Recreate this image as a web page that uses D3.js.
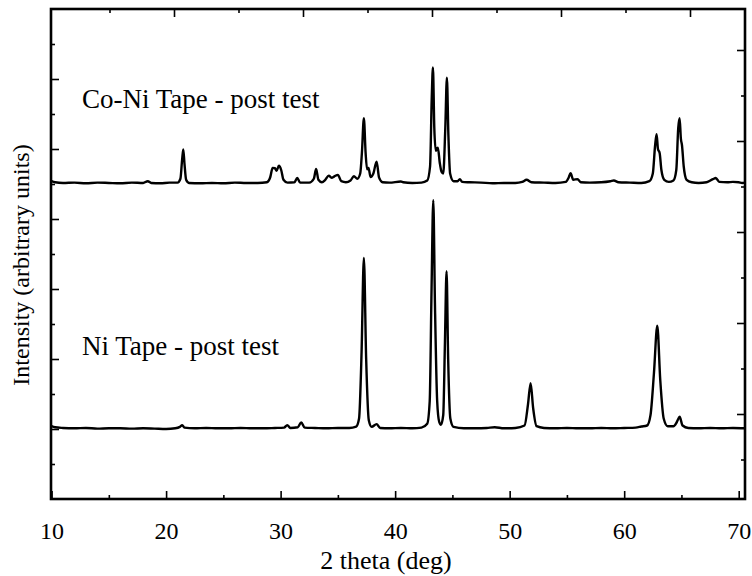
<!DOCTYPE html>
<html>
<head>
<meta charset="utf-8">
<script src="https://cdn.jsdelivr.net/npm/d3@7"></script>
<style>
  html, body { margin: 0; padding: 0; background: #fff; }
  svg { display: block; }
  text { font-family: "Liberation Serif", "Times New Roman", serif; fill: #000; }
</style>
</head>
<body>
<svg id="chart" width="752" height="576"></svg>
<script>
// ---------------- data ----------------
// X-ray diffraction traces: [2 theta (deg), intensity (arbitrary)]
const coNiTrace = [
  [10.0, 9.08], [10.3, 9.05], [11, 9.03], [12, 9.04], [13, 9.02], [14, 9.04], [15, 9.03], [16, 9.02],
  [17, 9.04], [18, 9.03], [18.4, 9.08], [18.7, 9.03], [19.5, 9.02], [20.3, 9.04], [21.0, 9.04],
  [21.25, 9.15], [21.4, 9.7], [21.5, 9.99], [21.6, 9.6], [21.75, 9.12], [22.0, 9.03], [23, 9.02],
  [24, 9.03], [25, 9.02], [26, 9.04], [27, 9.03], [28, 9.03], [28.8, 9.05], [29.1, 9.2], [29.3, 9.46],
  [29.5, 9.45], [29.65, 9.38], [29.85, 9.52], [30.05, 9.4], [30.25, 9.12], [30.6, 9.04], [31.2, 9.05],
  [31.45, 9.17], [31.7, 9.04], [32.5, 9.04], [32.9, 9.15], [33.1, 9.43], [33.3, 9.12], [33.6, 9.05],
  [33.9, 9.12], [34.2, 9.24], [34.45, 9.18], [34.7, 9.22], [35.0, 9.26], [35.3, 9.08], [35.7, 9.05],
  [36.1, 9.1], [36.4, 9.22], [36.7, 9.15], [36.95, 9.3], [37.1, 9.9], [37.27, 10.88], [37.42, 9.9],
  [37.55, 9.42], [37.68, 9.46], [37.85, 9.2], [38.1, 9.3], [38.38, 9.64], [38.6, 9.18], [38.9, 9.05],
  [39.5, 9.04], [40.5, 9.07], [40.7, 9.05], [41.5, 9.03], [42.3, 9.04], [42.8, 9.1], [43.05, 9.5],
  [43.2, 11.5], [43.3, 12.33], [43.42, 10.6], [43.55, 9.95], [43.73, 10.04], [43.9, 9.6], [44.05, 9.35],
  [44.2, 9.3], [44.38, 10.6], [44.52, 12.04], [44.65, 10.4], [44.8, 9.3], [45.1, 9.08], [45.45, 9.08],
  [45.65, 9.14], [45.85, 9.06], [46.5, 9.05], [47.5, 9.04], [48.5, 9.02], [49.5, 9.03], [50.5, 9.03],
  [51.1, 9.06], [51.48, 9.12], [51.9, 9.05], [53, 9.04], [54, 9.03], [54.9, 9.06], [55.15, 9.18],
  [55.32, 9.31], [55.55, 9.12], [55.93, 9.14], [56.2, 9.05], [57, 9.04], [58, 9.05], [58.8, 9.08],
  [59.1, 9.1], [59.5, 9.05], [60.5, 9.04], [61.5, 9.03], [62.2, 9.08], [62.5, 9.3], [62.7, 10.1],
  [62.83, 10.42], [62.95, 10.0], [63.1, 9.88], [63.25, 9.4], [63.5, 9.12], [63.9, 9.06], [64.3, 9.1],
  [64.55, 9.4], [64.72, 10.6], [64.84, 10.88], [64.95, 10.3], [65.05, 10.1], [65.2, 9.5], [65.45, 9.12],
  [65.9, 9.05], [66.5, 9.03], [67.2, 9.05], [67.75, 9.14], [68.0, 9.17], [68.3, 9.06], [69.0, 9.05],
  [69.5, 9.06], [70.0, 9.05], [70.3, 9.03], [70.55, 9.04]
];

const niTrace = [
  [10.0, 2.08], [10.3, 2.05], [11, 2.03], [12, 2.02], [13, 2.03], [14, 2.01], [15, 2.02], [16, 2.02],
  [17, 2.01], [18, 2.02], [19, 2.01], [20, 2.0], [20.8, 2.02], [21.2, 2.06], [21.41, 2.11], [21.6, 2.04],
  [22.5, 2.02], [23.5, 2.03], [24.5, 2.02], [25.5, 2.02], [26.5, 2.03], [27.5, 2.02], [28.5, 2.02],
  [29.5, 2.03], [30.3, 2.04], [30.58, 2.11], [30.85, 2.03], [31.5, 2.05], [31.8, 2.19], [32.1, 2.04],
  [33, 2.03], [34, 2.02], [35, 2.03], [36, 2.03], [36.6, 2.07], [36.85, 2.3], [37.07, 4.2], [37.27, 6.89],
  [37.47, 4.0], [37.7, 2.25], [37.95, 2.06], [38.38, 2.14], [38.7, 2.03], [39.5, 2.02], [40.5, 2.03],
  [41.5, 2.02], [42.3, 2.04], [42.8, 2.15], [43.02, 2.8], [43.18, 6.0], [43.33, 8.54], [43.48, 5.5],
  [43.67, 2.8], [43.85, 2.2], [44.0, 2.12], [44.2, 2.4], [44.35, 4.5], [44.49, 6.51], [44.63, 4.0],
  [44.82, 2.3], [45.1, 2.06], [46, 2.02], [47, 2.02], [48, 2.03], [48.7, 2.05], [49.5, 2.02], [50.5, 2.03],
  [51.3, 2.1], [51.6, 2.7], [51.83, 3.31], [52.05, 2.6], [52.35, 2.08], [53, 2.03], [54, 2.02], [55, 2.03],
  [56, 2.02], [57, 2.02], [58, 2.03], [59, 2.02], [60, 2.03], [61, 2.04], [61.5, 2.07], [62, 2.1],
  [62.3, 2.4], [62.6, 3.6], [62.89, 4.95], [63.15, 3.4], [63.45, 2.3], [63.8, 2.08], [64.3, 2.08],
  [64.6, 2.2], [64.84, 2.35], [65.1, 2.1], [65.6, 2.03], [66.5, 2.02], [67.5, 2.03], [68.5, 2.02],
  [69.5, 2.03], [70.55, 2.02]
];

const seriesLabels = ["Co-Ni Tape - post test", "Ni Tape - post test"];
const xMajorTicks = [10, 20, 30, 40, 50, 60, 70];
const xMinorTicks = [15, 25, 35, 45, 55, 65];
const xTickLabels = ["10", "20", "30", "40", "50", "60", "70"];
const xAxisTitle = "2 theta (deg)";
const yAxisTitle = "Intensity (arbitrary units)";

// ---------------- layout ----------------
const svg = d3.select("#chart");
const plotL = 51, plotR = 745, plotT = 9, plotB = 499;

const x = d3.scaleLinear().domain([9.95, 70.55]).range([plotL, plotR]);
const y = d3.scaleLinear().domain([0, 14]).range([plotB, plotT]);
// secondary (unlabelled) scales used only for the top and right tick marks
const xTop = d3.scaleLinear().domain([6 / 129, 700 / 129]).range([plotL, plotR]);
const yRight = d3.scaleLinear().domain([6 / 91, 496 / 91]).range([plotB, plotT]);

svg.append("rect").attr("width", 752).attr("height", 576).attr("fill", "#fff");

function styleAxis(g) {
  g.select(".domain").remove();
  g.selectAll(".tick line").attr("stroke", "#000").attr("stroke-width", 1.6);
}

// bottom axis
svg.append("g").attr("transform", `translate(0,${plotB})`)
  .call(d3.axisBottom(x).tickValues(xMajorTicks).tickSize(-8).tickPadding(23)
    .tickFormat((d, i) => xTickLabels[i]))
  .call(styleAxis)
  .call(g => g.selectAll("text").attr("font-size", 24).attr("fill", "#000"));
svg.append("g").attr("transform", `translate(0,${plotB})`)
  .call(d3.axisBottom(x).tickValues(xMinorTicks).tickSize(-4).tickFormat(""))
  .call(styleAxis);

// top axis
const topMajor = d3.range(1, 6);
const topMinor = d3.range(0.5, 5.01, 1);
svg.append("g").attr("transform", `translate(0,${plotT})`)
  .call(d3.axisTop(xTop).tickValues(topMajor).tickSize(-8).tickFormat(""))
  .call(styleAxis);
svg.append("g").attr("transform", `translate(0,${plotT})`)
  .call(d3.axisTop(xTop).tickValues(topMinor).tickSize(-4).tickFormat(""))
  .call(styleAxis);

// left axis
const leftMajor = d3.range(2, 14, 2);
const leftMinor = d3.range(1, 14, 2);
svg.append("g").attr("transform", `translate(${plotL},0)`)
  .call(d3.axisLeft(y).tickValues(leftMajor).tickSize(-8).tickFormat(""))
  .call(styleAxis);
svg.append("g").attr("transform", `translate(${plotL},0)`)
  .call(d3.axisLeft(y).tickValues(leftMinor).tickSize(-4).tickFormat(""))
  .call(styleAxis);

// right axis
const rightMajor = d3.range(1, 6);
const rightMinor = d3.range(0.5, 5.01, 1);
svg.append("g").attr("transform", `translate(${plotR},0)`)
  .call(d3.axisRight(yRight).tickValues(rightMajor).tickSize(-8).tickFormat(""))
  .call(styleAxis);
svg.append("g").attr("transform", `translate(${plotR},0)`)
  .call(d3.axisRight(yRight).tickValues(rightMinor).tickSize(-4).tickFormat(""))
  .call(styleAxis);

// traces
const line = d3.line().x(d => x(d[0])).y(d => y(d[1])).curve(d3.curveMonotoneX);
[coNiTrace, niTrace].forEach(tr => {
  svg.append("path").datum(tr).attr("d", line)
    .attr("fill", "none").attr("stroke", "#000").attr("stroke-width", 2.4)
    .attr("stroke-linejoin", "round");
});

// frame
svg.append("rect").attr("x", plotL).attr("y", plotT)
  .attr("width", plotR - plotL).attr("height", plotB - plotT)
  .attr("fill", "none").attr("stroke", "#000").attr("stroke-width", 2.6);

// annotations
svg.append("text").attr("x", 82).attr("y", 108).attr("font-size", 27).text(seriesLabels[0]);
svg.append("text").attr("x", 82).attr("y", 355).attr("font-size", 27).text(seriesLabels[1]);

// axis titles
svg.append("text").attr("x", 386).attr("y", 569).attr("text-anchor", "middle")
  .attr("font-size", 26).text(xAxisTitle);
svg.append("text").attr("transform", "translate(29,265) rotate(-90)")
  .attr("text-anchor", "middle").attr("font-size", 24).text(yAxisTitle);
</script>
</body>
</html>
